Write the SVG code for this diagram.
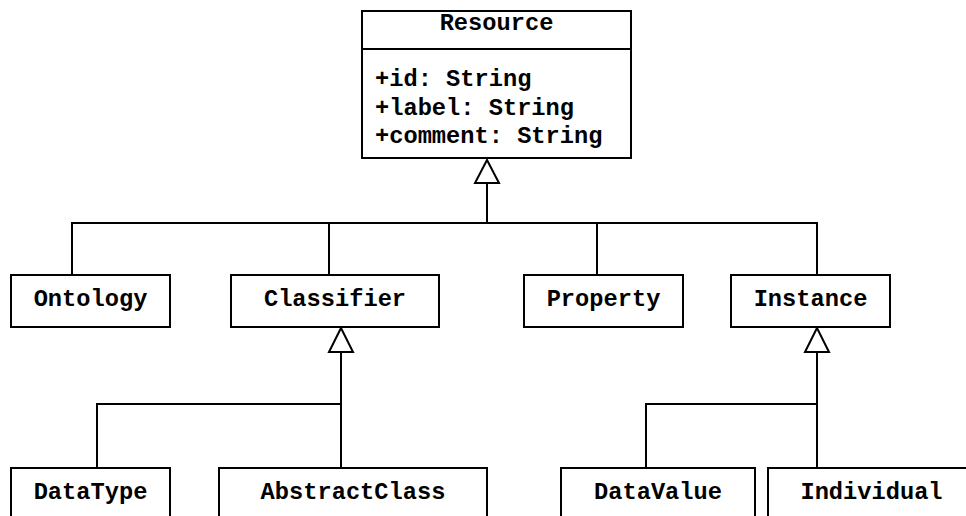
<svg xmlns="http://www.w3.org/2000/svg" width="966" height="516" viewBox="0 0 966 516">
<style>
.box{fill:#fff;stroke:#000;stroke-width:2}
.t{font-family:"Liberation Mono","Courier New",monospace;font-weight:bold;font-size:23.7px;fill:#000}
.c{text-anchor:middle}
.ln{fill:none;stroke:#000;stroke-width:2}
.tri{fill:#fff;stroke:#000;stroke-width:2;stroke-linejoin:miter}
</style>
<rect width="966" height="516" fill="#fff"/>
<g id="connectors">
<path class="ln" d="M487 183V223M72 275V223H817V275M329 223V275M597 223V275"/>
<polygon class="tri" points="487,160 475,183 499,183"/>
<path class="ln" d="M341 352V468M97 468V404H341"/>
<polygon class="tri" points="341,328 329,352 353,352"/>
<path class="ln" d="M817 352V468M646 468V404H817"/>
<polygon class="tri" points="817,328 805,352 829,352"/>
</g>
<g id="Resource">
<rect class="box" x="362" y="11" width="269" height="147"/>
<line class="ln" x1="362" y1="49" x2="631" y2="49"/>
<text class="t c" x="496.5" y="30">Resource</text>
<text class="t" x="375" y="86">+id: String</text>
<text class="t" x="375" y="114.5">+label: String</text>
<text class="t" x="375" y="143">+comment: String</text>
</g>
<g id="Ontology"><rect class="box" x="11" y="275" width="159" height="52"/><text class="t c" x="90.5" y="306">Ontology</text></g>
<g id="Classifier"><rect class="box" x="231" y="275" width="208" height="52"/><text class="t c" x="335" y="306">Classifier</text></g>
<g id="Property"><rect class="box" x="524" y="275" width="159" height="52"/><text class="t c" x="603.5" y="306">Property</text></g>
<g id="Instance"><rect class="box" x="731" y="275" width="159" height="52"/><text class="t c" x="810.5" y="306">Instance</text></g>
<g id="DataType"><rect class="box" x="11" y="468" width="159" height="70"/><text class="t c" x="90.5" y="499">DataType</text></g>
<g id="AbstractClass"><rect class="box" x="219" y="468" width="268" height="70"/><text class="t c" x="353" y="499">AbstractClass</text></g>
<g id="DataValue"><rect class="box" x="561" y="468" width="194" height="70"/><text class="t c" x="658" y="499">DataValue</text></g>
<g id="Individual"><rect class="box" x="768" y="468" width="207" height="70"/><text class="t c" x="871.5" y="499">Individual</text></g>
</svg>
